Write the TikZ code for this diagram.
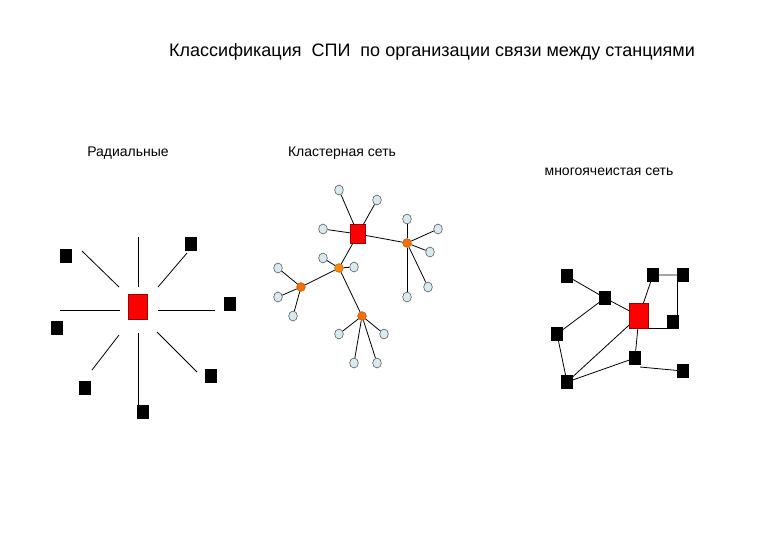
\documentclass[tikz,border=0pt]{standalone}
\usepackage{fontspec}
\setmainfont{Liberation Sans}
\usetikzlibrary{shapes.geometric}
\begin{document}
\begin{tikzpicture}[x=0.75pt,y=-0.75pt,
  blk/.style={draw=black,fill=black,minimum width=8.5pt,minimum height=10pt,inner sep=0pt},
  hub/.style={draw=red!60!black,fill=red,minimum width=14pt,minimum height=19pt,inner sep=0pt},
  leaf/.style={ellipse,draw=black!70,fill=cyan!12!white!88!gray,minimum width=6.5pt,minimum height=7.5pt,inner sep=0pt},
  org/.style={circle,draw=orange!70!black,fill=orange!85!red,minimum size=6.5pt,inner sep=0pt},
  ln/.style={black,line width=0.6pt},
  lbl/.style={font=\fontsize{10.5}{12}\selectfont,inner sep=0pt}]
\useasboundingbox (0,0) rectangle (780,540);
\node[lbl,font=\fontsize{13.5}{15}\selectfont] (title) at (432,52) {Классификация\ \ СПИ\ \ по организации связи между станциями};
\node[lbl] (t1) at (128,153) {Радиальные};
\node[lbl] (t2) at (342,153) {Кластерная сеть};
\node[lbl] (t3) at (609,172) {многоячеистая сеть};
% radial
\node[hub] (rc) at (138,307) {};
\foreach \n/\p in {r1/{66,256},r2/{191,244},r3/{230,304},r4/{57,328},r5/{85,388},r6/{211,376},r7/{143,412}}
  \node[blk] (\n) at (\p) {};
\foreach \a/\b in {{138,237}/{138,287},{82,251}/{119,287},{187,253}/{158,287},{60,310}/{120,310},{158,310}/{215,310},{119,335}/{92,370},{138,333}/{138,405},{157,332}/{197,372}}
  \draw[ln] (\a) -- (\b);
% cluster
\node[hub,minimum width=11pt,minimum height=14pt] (cc) at (358,234) {};
\node[org] (ha) at (407,243) {};
\node[org,fill=orange!90!yellow] (hb) at (339,268) {};
\node[org] (hc) at (301,287) {};
\node[org] (hd) at (362,316) {};
\foreach \n/\p in {l1/{339,190},l2/{377,200},l3/{323,229},a1/{407,219},a2/{438,229},a3/{430,252},a4/{428,287},a5/{407,297},b1/{323,258},b2/{354,267},c1/{278,268},c2/{278,297},c3/{293,316},d1/{339,334},d2/{384,334},d3/{354,363},d4/{377,363}}
  \node[leaf] (\n) at (\p) {};
\foreach \a/\b in {cc/l1,cc/l2,cc/l3,cc/ha,cc/hb,hb/hc,hb/hd,hb/b1,hb/b2,ha/a1,ha/a2,ha/a3,ha/a4,ha/a5,hc/c1,hc/c2,hc/c3,hd/d1,hd/d2,hd/d3,hd/d4}
  \draw[ln] (\a) -- (\b);
% mesh
\node[hub] (mc) at (639,316) {};
\foreach \n/\p in {s1/{567,276},s2/{605,298},s3/{653,275},s4/{683,275},s5/{673,322},s6/{557,334},s7/{635,358},s8/{683,371},s9/{567,382}}
  \node[blk] (\n) at (\p) {};
\coordinate (k4) at (677,275);
\coordinate (k5) at (677,322);
\coordinate (k7) at (640,367);
\coordinate (k8) at (668,328);
\draw[ln] (s1)--(s2) (s2)--(mc) (s2)--(s6) (s6)--(s9) (s9)--(mc) (s9)--(s7) (mc)--(s7) (mc)--(s3) (s3)--(s4);
\draw[ln] (k4)--(k5);
\draw[ln] (mc.east|-k8)--(k8);
\draw[ln] (k7)--(s8);
\end{tikzpicture}
\end{document}
